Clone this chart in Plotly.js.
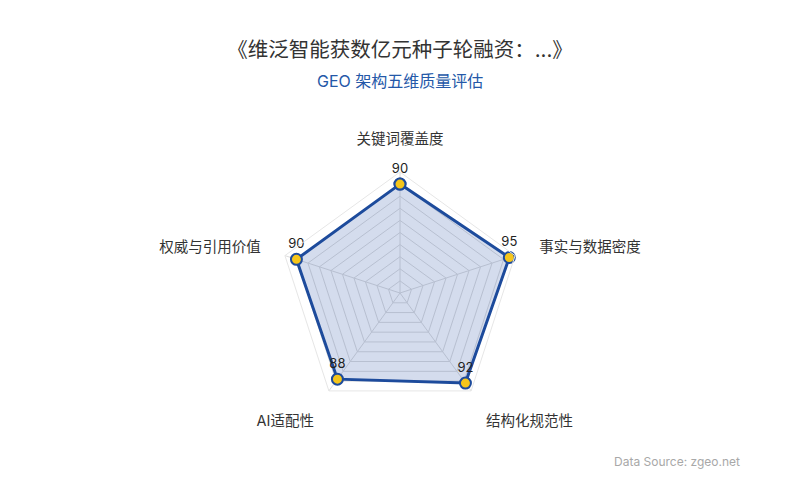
<!DOCTYPE html>
<html>
<head>
<meta charset="utf-8">
<script src="https://cdn.plot.ly/plotly-3.0.1.min.js"></script>
<style>
  html, body { margin: 0; padding: 0; background: #fff; }
  #chart { width: 800px; height: 500px; }
</style>
</head>
<body>
<div id="chart"></div>
<script>
// five quality dimensions and their scores
const dimensions = ['关键词覆盖度', '事实与数据密度', '结构化规范性', 'AI适配性', '权威与引用价值'];
const scores = [90, 95, 92, 88, 90];

const titleText = '《维泛智能获数亿元种子轮融资：...》';
const subtitleText = 'GEO 架构五维质量评估';
const sourceText = 'Data Source: zgeo.net';

const FONT = 'Inter, "Noto Sans CJK SC", "Noto Sans", sans-serif';

// close the polygon
const r = scores.concat(scores[0]);
const theta = dimensions.concat(dimensions[0]);

const trace = {
  type: 'scatterpolar',
  r: r,
  theta: theta,
  mode: 'lines+markers+text',
  fill: 'toself',
  fillcolor: 'rgba(40, 80, 165, 0.2)',
  line: { color: '#1d4b9c', width: 3 },
  marker: { size: 11, color: '#f5c51b', line: { color: '#1d4b9c', width: 2 } },
  text: r.map((v, i) => i < scores.length ? String(v) : ''),
  textposition: 'top center',
  textfont: { family: FONT, size: 13, color: '#222' },
  hoverinfo: 'theta+r',
  cliponaxis: false
};

const layout = {
  width: 800,
  height: 500,
  paper_bgcolor: '#fff',
  plot_bgcolor: '#fff',
  showlegend: false,
  margin: { l: 0, r: 0, t: 0, b: 0 },
  font: { family: FONT, color: '#333' },
  title: {
    text: titleText,
    font: { family: FONT, size: 20.5, color: '#333' },
    x: 0.5, xanchor: 'center',
    y: 0.9, yanchor: 'middle'
  },
  polar: {
    domain: { x: [0, 1], y: [0.172, 0.656] },
    bgcolor: 'rgba(0,0,0,0)',
    gridshape: 'linear',
    radialaxis: {
      range: [0, 100],
      dtick: 10,
      showticklabels: false,
      ticks: '',
      showline: false,
      gridcolor: '#dcdcdc',
      gridwidth: 1
    },
    angularaxis: {
      direction: 'clockwise',
      rotation: 90,
      showline: true,
      linecolor: '#e6e6e6',
      gridcolor: '#dcdcdc',
      ticks: 'outside',
      ticklen: 22,
      tickcolor: 'rgba(0,0,0,0)',
      tickfont: { family: FONT, size: 14.5, color: '#333' }
    }
  },
  annotations: [
    {
      text: subtitleText,
      xref: 'paper', yref: 'paper',
      x: 0.5, y: 0.838, xanchor: 'center', yanchor: 'middle',
      showarrow: false,
      font: { family: FONT, size: 16, color: '#2458a8' }
    },
    {
      text: sourceText,
      xref: 'paper', yref: 'paper',
      x: 0.928, y: 0.077, xanchor: 'right', yanchor: 'middle',
      showarrow: false,
      font: { family: FONT, size: 12, color: '#a8a8a8' }
    }
  ]
};

Plotly.newPlot('chart', [trace], layout, { displayModeBar: false, staticPlot: true });
</script>
</body>
</html>
